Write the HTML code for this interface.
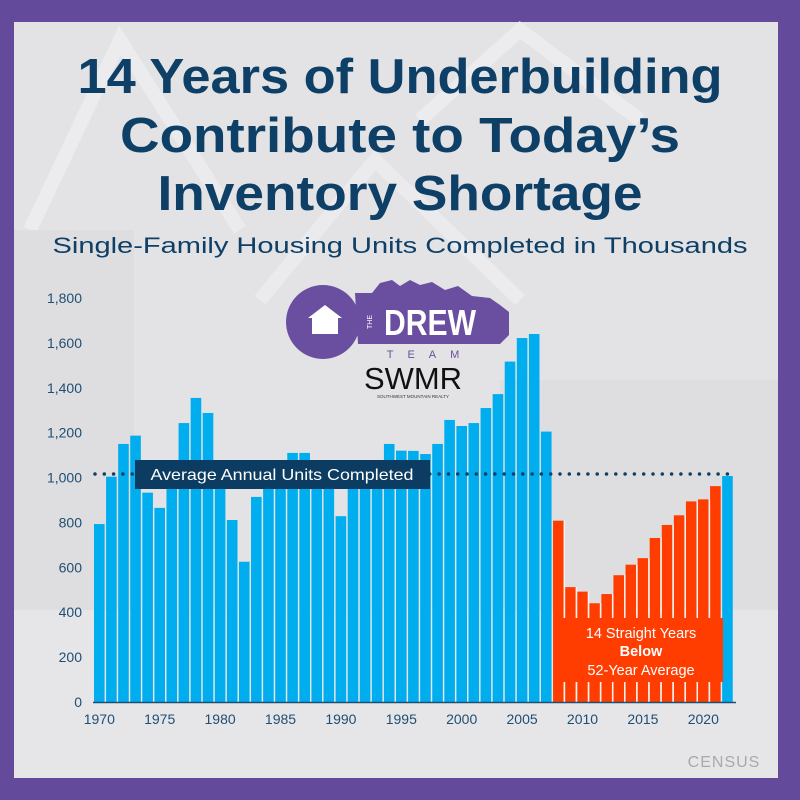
<!DOCTYPE html>
<html><head><meta charset="utf-8"><style>
html,body{margin:0;padding:0;width:800px;height:800px;overflow:hidden;background:#634a9b}
svg{display:block}
</style></head><body>
<svg id="s" width="800" height="800" viewBox="0 0 800 800" xmlns="http://www.w3.org/2000/svg" font-family="Liberation Sans, sans-serif">
<rect x="0" y="0" width="800" height="800" fill="#634a9b"/>
<rect x="14" y="22" width="764" height="756" fill="#e3e3e5"/>
<g fill="none" stroke="#eeeef0" stroke-width="14" opacity="0.8">
<path d="M30 230 L120 40 L240 230"/>
<path d="M260 300 L375 160 L520 300"/>
<path d="M420 120 L520 30 L640 120"/>
</g>
<rect x="14" y="230" width="120" height="380" fill="#dcdcde" opacity="0.7"/>
<rect x="14" y="610" width="764" height="168" fill="#e8e8ea" opacity="0.6"/>
<rect x="500" y="380" width="278" height="230" fill="#dedee0"/>
<g fill="#0e3f66" font-weight="bold" font-size="49" text-anchor="middle">
<text x="400" y="93" textLength="645" lengthAdjust="spacingAndGlyphs">14 Years of Underbuilding</text>
<text x="400" y="152" textLength="560" lengthAdjust="spacingAndGlyphs">Contribute to Today’s</text>
<text x="400" y="210" textLength="485" lengthAdjust="spacingAndGlyphs">Inventory Shortage</text>
</g>
<text x="400" y="253" fill="#0e3f66" font-size="22" text-anchor="middle" textLength="695" lengthAdjust="spacingAndGlyphs">Single-Family Housing Units Completed in Thousands</text>
<g id="yl" fill="#1f4e73" font-size="14" text-anchor="end"></g>
<g id="bars"></g>
<g id="xl" fill="#1f4e73" font-size="14" text-anchor="middle"></g>
<line x1="93" y1="702.5" x2="736" y2="702.5" stroke="#1f4e73" stroke-width="1.5"/>
<line x1="95" y1="474" x2="735" y2="474" stroke="#0e3f66" stroke-width="3.5" stroke-dasharray="0 9.3" stroke-linecap="round"/>
<rect x="135" y="460" width="295" height="29" fill="#0d3c63"/>
<text x="282" y="480" fill="#fff" font-size="16" text-anchor="middle" textLength="263" lengthAdjust="spacingAndGlyphs">Average Annual Units Completed</text>
<rect x="555" y="618" width="168" height="64" fill="#ff3d00"/>
<g fill="#fff" font-size="14.5" text-anchor="middle">
<text x="641" y="638">14 Straight Years</text>
<text x="641" y="656" font-weight="bold">Below</text>
<text x="641" y="675">52-Year Average</text>
</g>
<text x="724" y="767" fill="#a9a9ab" font-size="16" text-anchor="middle" letter-spacing="1">CENSUS</text>
<path d="M355 293 L372 293 L380 283 L392 280 L400 286 L410 280 L420 285 L432 282 L445 290 L458 286 L472 296 L490 298 L500 305 L509 312 L509 335 L500 344 L358 344 Z" fill="#6a4ea0"/>
<circle cx="323" cy="322" r="37" fill="#6a4ea0"/>
<path d="M308 318 L325 305 L342 318 L338 318 L338 334 L312 334 L312 318 Z" fill="#fff"/>
<text x="372" y="322" fill="#fff" font-size="7" transform="rotate(-90 372 322)" text-anchor="middle">THE</text>
<text x="430" y="335" fill="#fff" font-size="36" font-weight="bold" text-anchor="middle" textLength="92" lengthAdjust="spacingAndGlyphs">DREW</text>
<text x="430" y="358" fill="#6a4ea0" font-size="11" text-anchor="middle" letter-spacing="14">TEAM</text>
<text x="413" y="389" fill="#111" font-size="31" text-anchor="middle" textLength="98" lengthAdjust="spacingAndGlyphs">SWMR</text>
<text x="413" y="398" fill="#333" font-size="4.5" text-anchor="middle">SOUTHWEST MOUNTAIN REALTY</text>
</svg>
<script>
var v=[793,1004,1150,1187,933,865,1025,1243,1355,1288,949,811,625,914,1010,1060,1110,1110,1040,1010,828,990,1030,1050,1150,1120,1119,1105,1150,1257,1230,1243,1310,1372,1517,1622,1640,1205,808,512,492,440,481,565,612,641,731,789,832,894,903,962,1007];
var ns="http://www.w3.org/2000/svg",b=document.getElementById('bars');
function el(t,a,p){var e=document.createElementNS(ns,t);for(var k in a)e.setAttribute(k,a[k]);p.appendChild(e);return e;}
var y0=702,sc=0.2244,pitch=12.08;
for(var i=0;i<v.length;i++){var yr=1970+i,x=94+i*pitch,h=v[i]*sc;
el('rect',{x:x.toFixed(2),y:(y0-h).toFixed(2),width:10.6,height:h.toFixed(2),fill:(yr>=2008&&yr<=2021)?'#ff3d00':'#00adef'},b);
}
for(var i=0;i<v.length;i++){var yr=1970+i;if(yr>=2008&&yr<=2020){var x=94+i*pitch+10.6;el('rect',{x:x.toFixed(2),y:(y0-v[i]*sc),width:1.5,height:v[i]*sc,fill:'#f3f3f3'},b);}}
var yl=document.getElementById('yl');
for(var k=0;k<=9;k++){var t=el('text',{x:82,y:(y0-k*200*sc+5).toFixed(1)},yl);var n=k*200;t.textContent=n>=1000?(Math.floor(n/1000)+','+String(n%1000).padStart(3,'0')):n;}
var xl=document.getElementById('xl');
for(var yr=1970;yr<=2020;yr+=5){var i=yr-1970;var t=el('text',{x:(94+i*pitch+5.3).toFixed(1),y:724},xl);t.textContent=yr;}
</script>
</body></html>
